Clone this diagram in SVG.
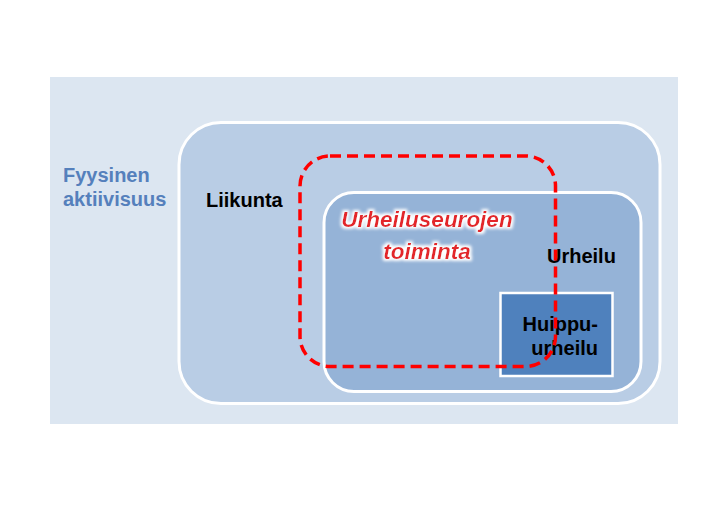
<svg xmlns="http://www.w3.org/2000/svg" width="720" height="515" viewBox="0 0 720 515">
<style>
.lbl{font-family:"Liberation Sans",Arial,sans-serif;font-weight:bold;fill:#000}
.box{stroke:#fff}
</style>
<defs>
<filter id="glow" x="-10%" y="-30%" width="120%" height="160%">
<feMorphology in="SourceAlpha" operator="dilate" radius="1.5" result="d"/>
<feGaussianBlur in="d" stdDeviation="1.5" result="b"/>
<feFlood flood-color="#fff"/>
<feComposite in2="b" operator="in" result="w"/>
<feMerge><feMergeNode in="w"/><feMergeNode in="SourceGraphic"/></feMerge>
</filter>
</defs>
<rect width="720" height="515" fill="#fff"/>
<g id="fyysinen">
<rect x="50" y="77" width="628" height="347" fill="#DCE6F1"/>
<text class="lbl" x="63" y="182" font-size="20" style="fill:#5580BC">Fyysinen</text>
<text class="lbl" x="63" y="206" font-size="20" style="fill:#5580BC">aktiivisuus</text>
</g>
<g id="liikunta">
<rect class="box" x="179" y="122.5" width="481" height="281" rx="42" fill="#B9CDE5" stroke-width="3"/>
<text class="lbl" x="206" y="207" font-size="20">Liikunta</text>
</g>
<g id="urheilu">
<rect class="box" x="324" y="192.5" width="317" height="199" rx="30" fill="#95B3D7" stroke-width="3"/>
<text class="lbl" x="547" y="263" font-size="20">Urheilu</text>
</g>
<g id="huippu">
<rect class="box" x="500.5" y="293" width="112" height="83" fill="#4F81BD" stroke-width="2.5"/>
<text class="lbl" x="598" y="331" font-size="20" text-anchor="end">Huippu-</text>
<text class="lbl" x="598" y="355" font-size="20" text-anchor="end">urheilu</text>
</g>
<g id="seurat">
<rect x="300" y="156" width="255.5" height="210.5" rx="30" fill="none" stroke="#FF0000" stroke-width="3.5" stroke-dasharray="11 6"/>
<g filter="url(#glow)">
<text class="lbl" x="427" y="227" font-size="22.5" font-style="italic" text-anchor="middle" style="fill:#E3262B">Urheiluseurojen</text>
<text class="lbl" x="427" y="259" font-size="22.5" font-style="italic" text-anchor="middle" style="fill:#E3262B">toiminta</text>
</g>
</g>
</svg>
